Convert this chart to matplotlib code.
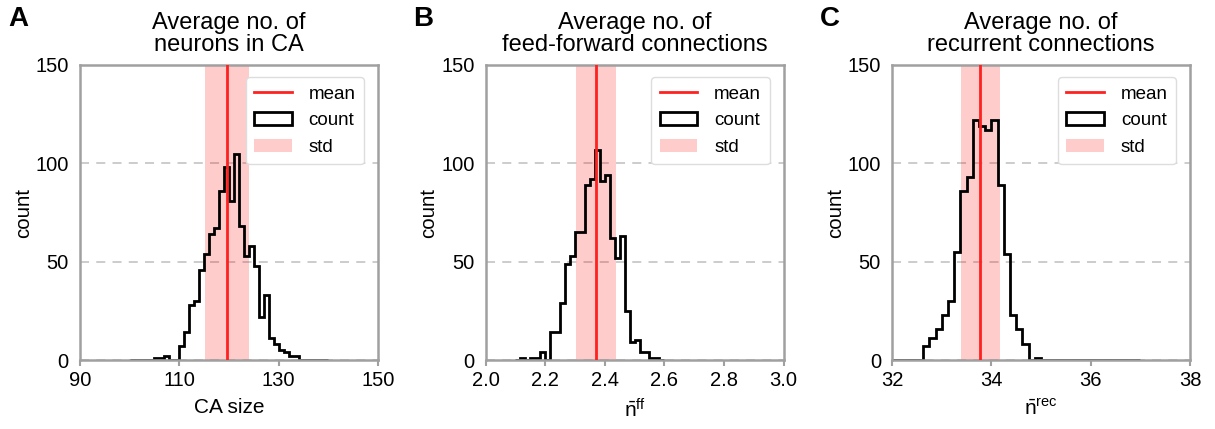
import numpy as np
import matplotlib
matplotlib.use("Agg")
from matplotlib import pyplot as plt

plt.rcParams['font.family'] = ['Liberation Sans', 'DejaVu Sans']
plt.rcParams['mathtext.fontset'] = 'custom'
plt.rcParams['mathtext.rm'] = 'Liberation Sans'
plt.rcParams['mathtext.it'] = 'Liberation Sans:italic'

# panel A: CA size, 40 bins of width 1 between 100 and 140
edges_a = np.linspace(100, 140, 41)
counts_a = [0, 0, 0, 0, 0, 1, 1, 2, 0, 0,
            7, 14, 28, 30, 46, 54, 64, 67, 86, 98,
            81, 105, 68, 53, 58, 48, 22, 33, 11, 8,
            5, 4, 2, 2, 0, 0, 0, 0, 0, 0]
mean_a, std_a = 119.7, 4.43

# panel B: feed-forward connections, 30 bins between 2.1 and 2.6
edges_b = np.linspace(2.1, 2.6, 31)
counts_b = [0, 1, 0, 1, 1, 4, 0, 14, 14, 29,
            49, 53, 65, 65, 89, 92, 107, 91, 94, 62,
            52, 63, 25, 9, 10, 4, 4, 1, 1, 0]
mean_b, std_b = 2.370, 0.067

# panel C: recurrent connections, 40 bins between 32 and 37
edges_c = np.linspace(32, 37, 41)
counts_c = [0, 0, 0, 0, 0, 7, 11, 16, 23, 30,
            55, 86, 93, 122, 119, 117, 122, 89, 54, 23,
            16, 8, 0, 1, 0, 0, 0, 0, 0, 0,
            0, 0, 0, 0, 0, 0, 0, 0, 0, 0]
mean_c, std_c = 33.78, 0.395

letters = ['A', 'B', 'C']
titles = ['Average no. of\nneurons in CA',
          'Average no. of\nfeed-forward connections',
          'Average no. of\nrecurrent connections']
xlabels = ['CA size', r'$\bar{\mathrm{n}}^{\mathrm{ff}}$', r'$\bar{\mathrm{n}}^{\mathrm{rec}}$']
xlims = [(90, 150), (2.0, 3.0), (32, 38)]
xticks = [[90, 110, 130, 150], [2.0, 2.2, 2.4, 2.6, 2.8, 3.0], [32, 34, 36, 38]]
xticklabels = [['90', '110', '130', '150'],
               ['2.0', '2.2', '2.4', '2.6', '2.8', '3.0'],
               ['32', '34', '36', '38']]
yticks = [0, 50, 100, 150]

panels = [(edges_a, counts_a, mean_a, std_a),
          (edges_b, counts_b, mean_b, std_b),
          (edges_c, counts_c, mean_c, std_c)]

fig = plt.figure(figsize=(12.15, 4.29), dpi=100)
lefts = [0.0658, 0.3996, 0.7342]
spine_col = '#a0a0a0'

for i, (edges, counts, mean, std) in enumerate(panels):
    ax = fig.add_axes([lefts[i], 0.1608, 0.2453, 0.6877])
    ax.axvspan(mean - std, mean + std, color='red', alpha=0.2, lw=0, label='std', zorder=1)
    ax.axvline(mean, color='#ff2020', lw=2, label='mean', zorder=3)
    ax.hist(edges[:-1], bins=edges, weights=counts, histtype='step',
            color='black', lw=2, label='count', zorder=2)
    ax.set_xlim(*xlims[i])
    ax.set_ylim(0, 150)
    ax.set_xticks(xticks[i])
    ax.set_xticklabels(xticklabels[i])
    ax.set_yticks(yticks)
    ax.tick_params(axis='x', labelsize=14.5, color=spine_col, width=1.5, length=4, pad=4)
    ax.tick_params(axis='y', labelsize=14.5, length=0, pad=8)
    for s in ax.spines.values():
        s.set_color(spine_col)
        s.set_linewidth(1.8)
        s.set_zorder(2.5)
    ax.yaxis.grid(True, ls=(0, (5, 4)), color='#c8c8c8', lw=1.3)
    ax.set_axisbelow(True)
    ax.set_ylabel('count', fontsize=14.7, labelpad=2)
    ax.set_xlabel(xlabels[i], fontsize=15, labelpad=6)
    ax.set_title(titles[i], fontsize=17, pad=10, linespacing=1.0)

    h, l = ax.get_legend_handles_labels()
    order = [l.index('mean'), l.index('count'), l.index('std')]
    ax.legend([h[k] for k in order], [l[k] for k in order], loc='upper right',
              fontsize=13.5, framealpha=1, edgecolor='#dddddd', handlelength=2.0,
              borderpad=0.45, labelspacing=0.5, handletextpad=0.9,
              bbox_to_anchor=(0.985, 0.99))
    fig.text(lefts[i] - 0.0592, 0.955, letters[i], fontsize=20, fontweight='bold',
             va='center', ha='left')

fig.savefig('out.png', dpi=100)
